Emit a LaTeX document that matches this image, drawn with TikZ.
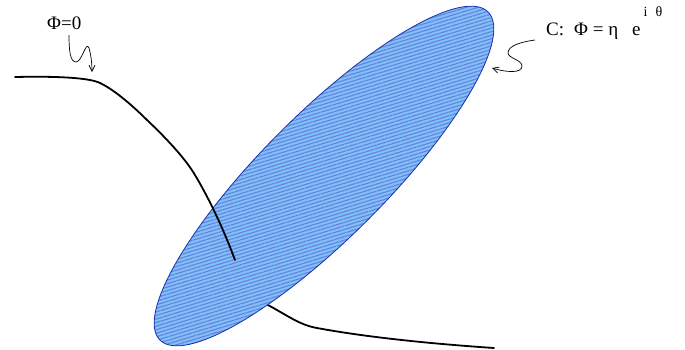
\documentclass[tikz,border=0pt]{standalone}
\usepackage{fontspec}
\setmainfont{Liberation Serif}
\usetikzlibrary{arrows.meta,patterns.meta}
\definecolor{discfill}{HTML}{7EC0FA}
\definecolor{discline}{HTML}{1830B0}
\definecolor{stripe}{HTML}{4460D0}
\tikzset{
  curve/.style={line width=1.8pt, line cap=round},
  squig/.style={line width=0.7pt, -{Straight Barb[length=6pt,width=6pt]}},
  lbl/.style={inner sep=0pt, font=\fontsize{19}{22}\selectfont},
  disc/.style={rotate around={45:(324,176)}}
}
\begin{document}
\begin{tikzpicture}[x=1pt,y=-1pt]
\useasboundingbox (0,0) rectangle (685,349);
% lower branch (under the disc)
\draw[curve] (250,295) .. controls (262,301) .. (268,305)
  .. controls (290,317) and (300,325) .. (317,328)
  .. controls (360,336) and (420,343) .. (494,348);
% disc
\fill[discfill, disc] (324,176) ellipse [x radius=232, y radius=62];
\begin{scope}
  \clip[disc] (324,176) ellipse [x radius=232, y radius=62];
  \fill[pattern={Lines[angle=17,distance=3.4pt,line width=1.1pt]}, pattern color=stripe!80] (140,0) rectangle (510,349);
\end{scope}
\draw[discline, line width=0.8pt, disc] (324,176) ellipse [x radius=232, y radius=62];
% upper branch
\draw[curve] (15,77) .. controls (60,76) and (90,78) .. (100,83)
  .. controls (115,90) and (135,108) .. (147,120)
  .. controls (165,137) and (185,158) .. (195,175)
  .. controls (207,195) and (222,225) .. (235,260);
% labels
\node[lbl, anchor=base west] (phizero) at (47,29) {Φ=0};
\node[lbl, anchor=base west] (cdef) at (546,35) {C:\hspace{10pt}Φ = η\hspace{14pt}e\raisebox{19pt}{\fontsize{14}{16}\selectfont\hspace{3pt}i\hspace{8pt}θ}};
% squiggle arrows
\coordinate (s1) at (69,35);
\coordinate (t1) at (92,72);
\draw[squig] (s1) .. controls (69,50) and (70,62) .. (76,62)
  .. controls (82,62) and (86,40) .. (89,48)
  .. controls (91,55) and (92,63) .. (t1);
\coordinate (s2) at (535,40);
\coordinate (t2) at (492,68);
\draw[squig] (s2) .. controls (520,42) and (508,46) .. (508,53)
  .. controls (508,58) and (522,60) .. (522,66)
  .. controls (522,74) and (505,72) .. (t2);
\end{tikzpicture}
\end{document}
